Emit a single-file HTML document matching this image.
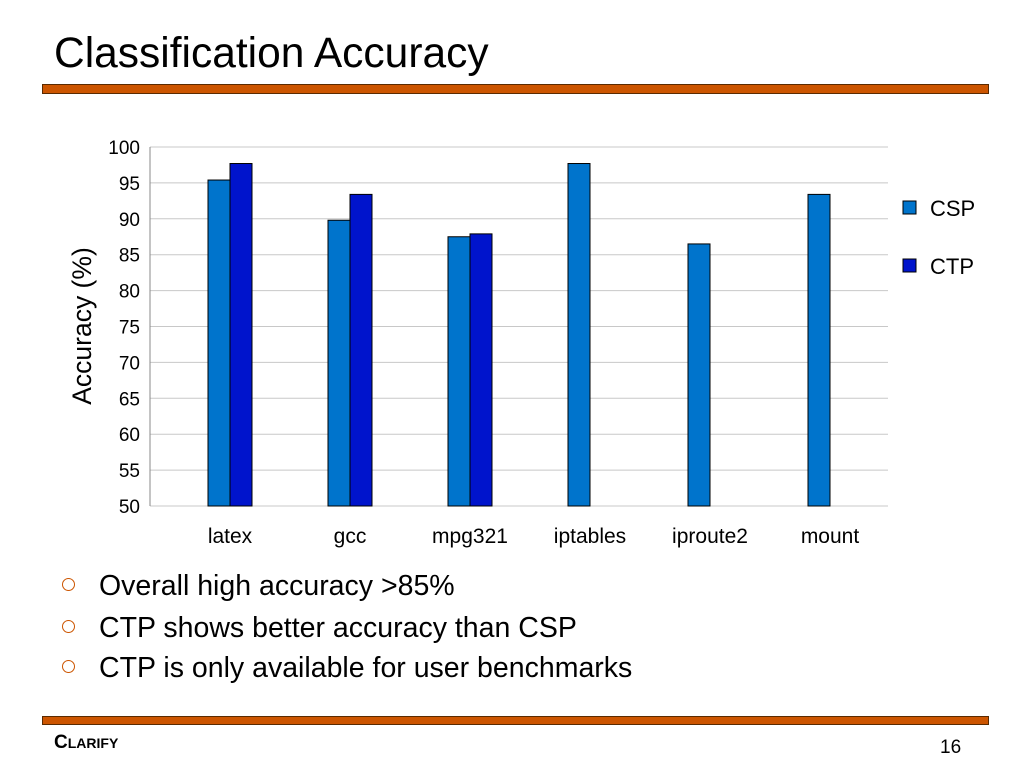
<!DOCTYPE html>
<html><head><meta charset="utf-8"><style>
body{margin:0;width:1024px;height:768px;background:#fff;position:relative;overflow:hidden;font-family:"Liberation Sans",sans-serif}
.abs{position:absolute}
.bar{position:absolute;left:42px;width:947px;background:#cc5500;border:1px solid #5a2a00;box-sizing:border-box}
.bul{position:absolute;left:62px;font-size:28.5px;color:#000;white-space:nowrap}
.bul span{display:inline-block;width:11px;height:11px;border:1.5px solid #cc5500;border-radius:50%;margin-right:24px;vertical-align:4px}
</style></head><body>
<div class="abs" style="left:54px;top:30px;font-size:42.5px;">Classification Accuracy</div>
<div class="bar" style="top:84px;height:10px"></div>
<svg class="abs" style="left:0;top:0" width="1024" height="560">
<g id="g"></g>
</svg>
<div class="bul" style="top:570px"><span></span>Overall high accuracy &gt;85%</div>
<div class="bul" style="top:612px"><span></span>CTP shows better accuracy than CSP</div>
<div class="bul" style="top:652px"><span></span>CTP is only available for user benchmarks</div>
<div class="bar" style="top:716px;height:9px"></div>
<div class="abs" style="left:54px;top:732px;font-size:19px;font-weight:bold;">C<span style="font-size:14px">LARIFY</span></div>
<div class="abs" style="left:940px;top:737px;font-size:19px;">16</div>
<script>
const categories=["latex","gcc","mpg321","iptables","iproute2","mount"];
const cspValues=[95.4,89.8,87.5,97.7,86.5,93.4];
const ctpValues=[97.7,93.4,87.9,null,null,null];
const yTicks=[50,55,60,65,70,75,80,85,90,95,100];
const NS="http://www.w3.org/2000/svg",g=document.getElementById('g');
const x0=150,x1=888,yTop=147,yBot=506,yMin=50,yMax=100;
const y=v=>yBot-(v-yMin)/(yMax-yMin)*(yBot-yTop);
function mk(t,a,txt){const e=document.createElementNS(NS,t);for(const k in a)e.setAttribute(k,a[k]);if(txt!=null)e.textContent=txt;g.appendChild(e);return e;}
yTicks.forEach(v=>{
 const l=mk('line',{x1:x0,x2:x1,y1:y(v),y2:y(v),stroke:'#c8c8c8','stroke-width':1});
 
 const t=mk('text',{x:x0-10,y:y(v)+7,'text-anchor':'end','font-size':19,fill:'#000'},v);
 
});
mk('line',{x1:x0,x2:x0,y1:yTop,y2:yBot,stroke:'#888'});
const step=120,bw=22;
categories.forEach((c,i)=>{
 const c0=230+i*step;
 const b=mk('rect',{x:c0-bw,y:y(cspValues[i]),width:bw,height:yBot-y(cspValues[i]),fill:'#0074cc',stroke:'#000','stroke-width':1});
 
 if(ctpValues[i]!=null){
  const b2=mk('rect',{x:c0,y:y(ctpValues[i]),width:bw,height:yBot-y(ctpValues[i]),fill:'#0014cc',stroke:'#000','stroke-width':1});
  
 }
 const t=mk('text',{x:c0,y:543,'text-anchor':'middle','font-size':21},c);
 
});
const yt=mk('text',{x:0,y:0,transform:'translate(91,326) rotate(-90)','text-anchor':'middle','font-size':26.5},'Accuracy (%)');

[['CSP','#0074cc',208],['CTP','#0014cc',266]].forEach(([n,col,yy])=>{
 const r=mk('rect',{x:903,y:yy-7,width:13,height:13,fill:col,stroke:'#000','stroke-width':1});
 
 const t=mk('text',{x:930,y:yy+8,'font-size':22},n);
 
});
</script>
</body></html>
